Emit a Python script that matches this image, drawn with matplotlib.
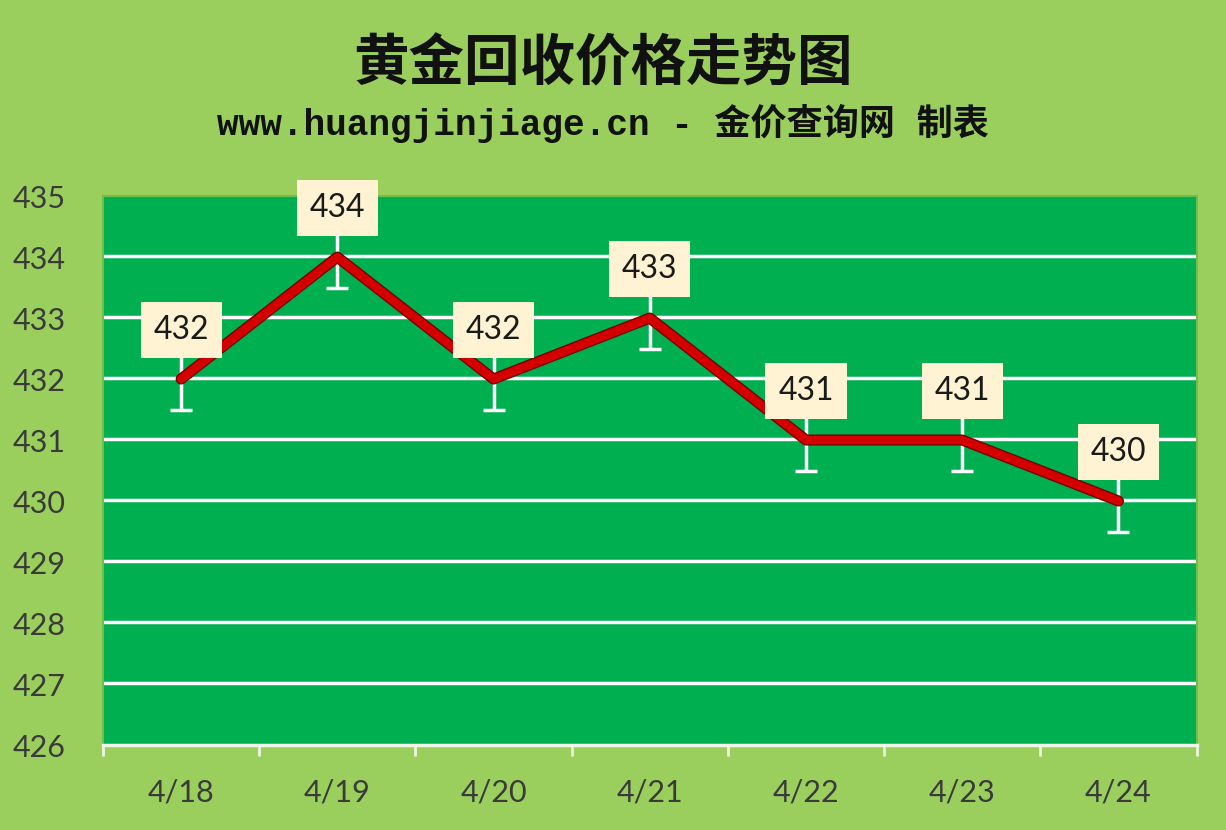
import matplotlib
matplotlib.use('Agg')
from matplotlib import pyplot as plt

dates = ["4/18", "4/19", "4/20", "4/21", "4/22", "4/23", "4/24"]
prices = [432, 434, 432, 433, 431, 431, 430]
err = [0.5, 0.5, 0.5, 0.5, 0.5, 0.5, 0.5]
yticks = [426, 427, 428, 429, 430, 431, 432, 433, 434, 435]

bg = '#9BCF5D'
plot_bg = '#00AF4F'

plt.rcParams['font.family'] = ['Lato', 'DejaVu Sans']

fig = plt.figure(figsize=(12.26, 8.3), dpi=100)
fig.patch.set_facecolor(bg)
ax = fig.add_axes([0.084, 0.1024, 0.892, 0.6614])
ax.set_facecolor(plot_bg)

x = list(range(len(dates)))

# grid lines
for v in yticks[1:-1]:
    ax.axhline(v, color='#1a7a3a', lw=1.2, zorder=1, alpha=0.6)
    ax.axhline(v + 0.01, color='white', lw=2.5, zorder=1.5)

ax.errorbar(x, prices, yerr=err, fmt='none', ecolor='white', elinewidth=2.5,
            capsize=8, capthick=2.5, zorder=2)
ax.plot(x, prices, color='#7a0000', lw=8, solid_capstyle='round', zorder=3)
ax.plot(x, prices, color='#D40000', lw=6, solid_capstyle='round', zorder=3.1)

for xi, p in zip(x, prices):
    ax.text(xi, p + 0.8, str(p), ha='center', va='center', fontsize=23,
            color='#1a1a1a', zorder=5,
            bbox=dict(boxstyle='square,pad=0.4', fc='#FFF3D4', ec='none'))

ax.set_xlim(-0.5, len(dates) - 0.5)
ax.set_ylim(426, 435)
ax.set_yticks(yticks)
ax.set_yticklabels([str(v) for v in yticks], fontsize=22, color='#3a3a3a')
ax.set_xticks(x)
ax.set_xticklabels(dates, fontsize=22, color='#3a3a3a')
ax.tick_params(axis='y', length=0, pad=27)
ax.tick_params(axis='x', which='major', length=0, pad=24)
ax.set_xticks([i - 0.5 for i in range(len(dates) + 1)], minor=True)
ax.tick_params(axis='x', which='minor', length=8, width=2, color='#f0f5e6')

for s in ['top', 'right', 'left']:
    ax.spines[s].set_color('#6fbf4a')
    ax.spines[s].set_linewidth(1.5)
ax.spines['bottom'].set_color('#f0f5e6')
ax.spines['bottom'].set_linewidth(2.5)

fig.text(0.492, 0.922, "黄金回收价格走势图", ha='center', va='center', fontsize=40,
         fontweight='bold', color='#111111', family=['Noto Sans CJK SC', 'DejaVu Sans'])
fig.text(0.492, 0.851, "www.huangjinjiage.cn - 金价查询网 制表", ha='center', va='center',
         fontsize=26, fontweight='bold', color='#111111',
         family=['Liberation Mono', 'Noto Sans CJK SC', 'DejaVu Sans'])

plt.savefig('out.png', dpi=100, facecolor=bg)
